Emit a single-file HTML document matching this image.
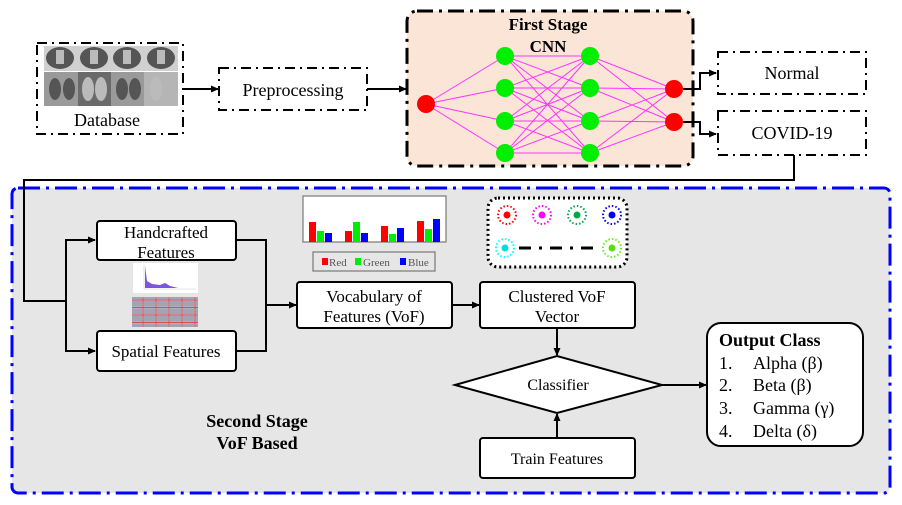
<!DOCTYPE html>
<html><head><meta charset="utf-8"><style>
html,body{margin:0;padding:0;background:#fff;}
svg{display:block;font-family:"Liberation Serif",serif;}
</style></head><body>
<svg width="902" height="505" viewBox="0 0 902 505" xmlns="http://www.w3.org/2000/svg">
<defs>
<marker id="a" markerWidth="8" markerHeight="8" refX="7" refY="4" orient="auto" markerUnits="userSpaceOnUse"><path d="M0,0.5 L8,4 L0,7.5 z" fill="#000"/></marker>
<pattern id="grid" width="13" height="7.5" patternUnits="userSpaceOnUse"><rect width="13" height="7.5" fill="#c9b7c4"/><rect x="1" y="1" width="11" height="5.5" fill="#9fa5b5"/><rect width="13" height="7.5" fill="none" stroke="#d45050" stroke-width="1"/></pattern>
</defs>

<rect x="12" y="188" width="878" height="305" rx="6" fill="#e6e6e6" stroke="#0000ff" stroke-width="3" stroke-dasharray="22,6,3,6"/>

<rect x="37" y="43" width="146" height="91" fill="#fff" stroke="#000" stroke-width="2" stroke-dasharray="10,5,2,5"/>
<rect x="44" y="46" width="134" height="25" fill="#d0d0d0"/>
<g fill="#555"><ellipse cx="60" cy="58" rx="14" ry="11"/><ellipse cx="94" cy="58" rx="14" ry="11"/><ellipse cx="127" cy="58" rx="14" ry="11"/><ellipse cx="161" cy="58" rx="14" ry="11"/></g>
<g fill="#bbb"><rect x="56" y="50" width="8" height="14"/><rect x="90" y="50" width="8" height="14"/><rect x="123" y="50" width="8" height="14"/><rect x="157" y="50" width="8" height="14"/></g>
<rect x="44" y="72" width="134" height="34" fill="#9a9a9a"/>
<rect x="78" y="72" width="33" height="34" fill="#6a6a6a"/><rect x="144" y="72" width="34" height="34" fill="#b5b5b5"/>
<g fill="#555"><ellipse cx="55" cy="89" rx="6" ry="11"/><ellipse cx="69" cy="89" rx="6" ry="11"/><ellipse cx="122" cy="89" rx="6" ry="11"/><ellipse cx="135" cy="89" rx="6" ry="11"/></g>
<g fill="#bbb"><ellipse cx="88" cy="89" rx="6" ry="12"/><ellipse cx="101" cy="89" rx="6" ry="12"/><ellipse cx="156" cy="89" rx="6" ry="12"/></g>
<text x="107" y="126" font-size="18" text-anchor="middle">Database</text>

<rect x="219" y="68" width="148" height="42" fill="#fff" stroke="#000" stroke-width="2" stroke-dasharray="10,5,2,5"/>
<text x="293" y="96" font-size="18" text-anchor="middle">Preprocessing</text>
<line x1="183" y1="89" x2="218" y2="89" stroke="#000" stroke-width="2" marker-end="url(#a)"/>
<line x1="367" y1="89" x2="406" y2="89" stroke="#000" stroke-width="2" marker-end="url(#a)"/>

<rect x="407" y="11" width="286" height="155" rx="10" fill="#fbe5d6" stroke="#000" stroke-width="3" stroke-dasharray="16,6,3,6"/>
<text x="548" y="30" font-size="17" font-weight="bold" text-anchor="middle">First Stage</text>
<text x="548" y="52" font-size="17" font-weight="bold" text-anchor="middle">CNN</text>
<g stroke="#ff33ff" stroke-width="1">
<line x1="426" y1="104" x2="505" y2="56"/><line x1="426" y1="104" x2="505" y2="88"/><line x1="426" y1="104" x2="505" y2="121"/><line x1="426" y1="104" x2="505" y2="153"/>
<line x1="505" y1="56" x2="590" y2="56"/><line x1="505" y1="56" x2="590" y2="88"/><line x1="505" y1="56" x2="590" y2="121"/><line x1="505" y1="56" x2="590" y2="153"/>
<line x1="505" y1="88" x2="590" y2="56"/><line x1="505" y1="88" x2="590" y2="88"/><line x1="505" y1="88" x2="590" y2="121"/><line x1="505" y1="88" x2="590" y2="153"/>
<line x1="505" y1="121" x2="590" y2="56"/><line x1="505" y1="121" x2="590" y2="88"/><line x1="505" y1="121" x2="590" y2="121"/><line x1="505" y1="121" x2="590" y2="153"/>
<line x1="505" y1="153" x2="590" y2="56"/><line x1="505" y1="153" x2="590" y2="88"/><line x1="505" y1="153" x2="590" y2="121"/><line x1="505" y1="153" x2="590" y2="153"/>
<line x1="590" y1="56" x2="674" y2="89"/><line x1="590" y1="56" x2="674" y2="122"/><line x1="590" y1="88" x2="674" y2="89"/><line x1="590" y1="88" x2="674" y2="122"/>
<line x1="590" y1="121" x2="674" y2="89"/><line x1="590" y1="121" x2="674" y2="122"/><line x1="590" y1="153" x2="674" y2="89"/><line x1="590" y1="153" x2="674" y2="122"/>
</g>
<circle cx="426" cy="104" r="9" fill="#ff0000"/>
<g fill="#00ee00"><circle cx="505" cy="56" r="9"/><circle cx="505" cy="88" r="9"/><circle cx="505" cy="121" r="9"/><circle cx="505" cy="153" r="9"/><circle cx="590" cy="56" r="9"/><circle cx="590" cy="88" r="9"/><circle cx="590" cy="121" r="9"/><circle cx="590" cy="153" r="9"/></g>
<circle cx="674" cy="89" r="9" fill="#ff0000"/><circle cx="674" cy="122" r="9" fill="#ff0000"/>

<rect x="718" y="52" width="148" height="42" fill="#fff" stroke="#000" stroke-width="2" stroke-dasharray="10,5,2,5"/>
<text x="792" y="79" font-size="18" text-anchor="middle">Normal</text>
<rect x="718" y="111" width="148" height="44" fill="#fff" stroke="#000" stroke-width="2" stroke-dasharray="10,5,2,5"/>
<text x="792" y="139" font-size="18" text-anchor="middle">COVID-19</text>
<polyline points="683,89 700,89 700,73 716,73" fill="none" stroke="#000" stroke-width="2" marker-end="url(#a)"/>
<polyline points="683,122 700,122 700,134 716,134" fill="none" stroke="#000" stroke-width="2" marker-end="url(#a)"/>
<polyline points="794,155 794,180 24,180 24,301 66,301" fill="none" stroke="#000" stroke-width="2"/>

<rect x="97" y="221" width="139" height="39" rx="3" fill="#fff" stroke="#000" stroke-width="2"/>
<text x="166" y="238" font-size="17" text-anchor="middle">Handcrafted</text>
<text x="166" y="258" font-size="17" text-anchor="middle">Features</text>
<rect x="97" y="331" width="139" height="40" rx="3" fill="#fff" stroke="#000" stroke-width="2"/>
<text x="166" y="357" font-size="17" text-anchor="middle">Spatial Features</text>
<polyline points="95,351 66,351 66,240 95,240" fill="none" stroke="#000" stroke-width="2" marker-end="url(#a)"/>
<line x1="66" y1="351" x2="95" y2="351" stroke="#000" stroke-width="2" marker-end="url(#a)"/>
<polyline points="236,240 266,240 266,351 236,351" fill="none" stroke="#000" stroke-width="2"/>
<line x1="266" y1="305" x2="296" y2="305" stroke="#000" stroke-width="2" marker-end="url(#a)"/>

<rect x="133" y="263" width="65" height="30" fill="#fff"/>
<path d="M144,265 L144,289 L196,289" fill="none" stroke="#ccc" stroke-width="0.6"/>
<path d="M145,266 L147,281 L152,284 L160,285 L165,283 L170,286 L178,288 L145,288 z" fill="#7b55e0"/>
<rect x="132" y="297" width="66" height="30" fill="url(#grid)"/>

<rect x="297" y="282" width="155" height="46" rx="3" fill="#fff" stroke="#000" stroke-width="2"/>
<text x="374" y="302" font-size="17" text-anchor="middle">Vocabulary of</text>
<text x="374" y="322" font-size="17" text-anchor="middle">Features (VoF)</text>
<line x1="452" y1="305" x2="479" y2="305" stroke="#000" stroke-width="2" marker-end="url(#a)"/>
<rect x="480" y="282" width="155" height="46" rx="3" fill="#fff" stroke="#000" stroke-width="2"/>
<text x="557" y="302" font-size="17" text-anchor="middle">Clustered VoF</text>
<text x="557" y="322" font-size="17" text-anchor="middle">Vector</text>

<rect x="303" y="196" width="143" height="46" fill="#fff" stroke="#777" stroke-width="1.2"/>
<g fill="#ff0000"><rect x="309" y="222" width="7" height="20"/><rect x="345" y="231" width="7" height="11"/><rect x="381" y="226" width="7" height="16"/><rect x="417" y="221" width="7" height="21"/></g>
<g fill="#00ee00"><rect x="317" y="231" width="7" height="11"/><rect x="353" y="222" width="7" height="20"/><rect x="389" y="234" width="7" height="8"/><rect x="425" y="229" width="7" height="13"/></g>
<g fill="#0000ff"><rect x="325" y="233" width="7" height="9"/><rect x="361" y="233" width="7" height="9"/><rect x="397" y="228" width="7" height="14"/><rect x="433" y="219" width="7" height="23"/></g>
<rect x="313" y="252" width="122" height="19" fill="#e6e6e6" stroke="#777" stroke-width="1.2"/>
<rect x="322" y="258" width="6" height="7" fill="#ff0000"/><text x="329" y="266" font-size="11" fill="#555">Red</text>
<rect x="355" y="258" width="6" height="7" fill="#00ee00"/><text x="363" y="266" font-size="11" fill="#555">Green</text>
<rect x="400" y="258" width="6" height="7" fill="#0000ff"/><text x="408" y="266" font-size="11" fill="#555">Blue</text>

<rect x="488" y="198" width="139" height="69" rx="10" fill="#fff" stroke="#000" stroke-width="3" stroke-dasharray="2,3"/>
<g>
<circle cx="507" cy="215" r="9" fill="none" stroke="#ff0000" stroke-width="2" stroke-dasharray="1.5,2"/><circle cx="507" cy="215" r="3.5" fill="#ff0000"/>
<circle cx="542" cy="215" r="9" fill="none" stroke="#ff00ff" stroke-width="2" stroke-dasharray="1.5,2"/><circle cx="542" cy="215" r="3.5" fill="#ff00ff"/>
<circle cx="577" cy="215" r="9" fill="none" stroke="#00aa44" stroke-width="2" stroke-dasharray="1.5,2"/><circle cx="577" cy="215" r="3.5" fill="#00aa44"/>
<circle cx="612" cy="215" r="9" fill="none" stroke="#0000ff" stroke-width="2" stroke-dasharray="1.5,2"/><circle cx="612" cy="215" r="3.5" fill="#0000ff"/>
<circle cx="505" cy="248" r="9" fill="none" stroke="#00ffff" stroke-width="2" stroke-dasharray="1.5,2"/><circle cx="505" cy="248" r="3.5" fill="#00dddd"/>
<circle cx="612" cy="248" r="9" fill="none" stroke="#66ee22" stroke-width="2" stroke-dasharray="1.5,2"/><circle cx="612" cy="248" r="3.5" fill="#55dd11"/>
</g>
<line x1="519" y1="248" x2="593" y2="248" stroke="#000" stroke-width="3" stroke-dasharray="12,8,3,8"/>

<line x1="557" y1="328" x2="557" y2="355" stroke="#000" stroke-width="2" marker-end="url(#a)"/>
<polygon points="455,385 557,356 662,385 557,413" fill="#fff" stroke="#000" stroke-width="2"/>
<text x="558" y="390" font-size="16" text-anchor="middle">Classifier</text>
<rect x="480" y="438" width="155" height="40" rx="3" fill="#fff" stroke="#000" stroke-width="2"/>
<text x="557" y="464" font-size="16" text-anchor="middle">Train Features</text>
<line x1="557" y1="438" x2="557" y2="414" stroke="#000" stroke-width="2" marker-end="url(#a)"/>
<line x1="662" y1="385" x2="706" y2="385" stroke="#000" stroke-width="2" marker-end="url(#a)"/>

<rect x="707" y="323" width="156" height="123" rx="14" fill="#fff" stroke="#000" stroke-width="2"/>
<text x="719" y="346" font-size="18" font-weight="bold">Output Class</text>
<g font-size="18">
<text x="719" y="369">1.</text><text x="753" y="369">Alpha (β)</text>
<text x="719" y="391">2.</text><text x="753" y="391">Beta (β)</text>
<text x="719" y="414">3.</text><text x="753" y="414">Gamma (γ)</text>
<text x="719" y="437">4.</text><text x="753" y="437">Delta (δ)</text>
</g>

<text x="257" y="427" font-size="18" font-weight="bold" text-anchor="middle">Second Stage</text>
<text x="257" y="449" font-size="18" font-weight="bold" text-anchor="middle">VoF Based</text>
</svg>
</body></html>
